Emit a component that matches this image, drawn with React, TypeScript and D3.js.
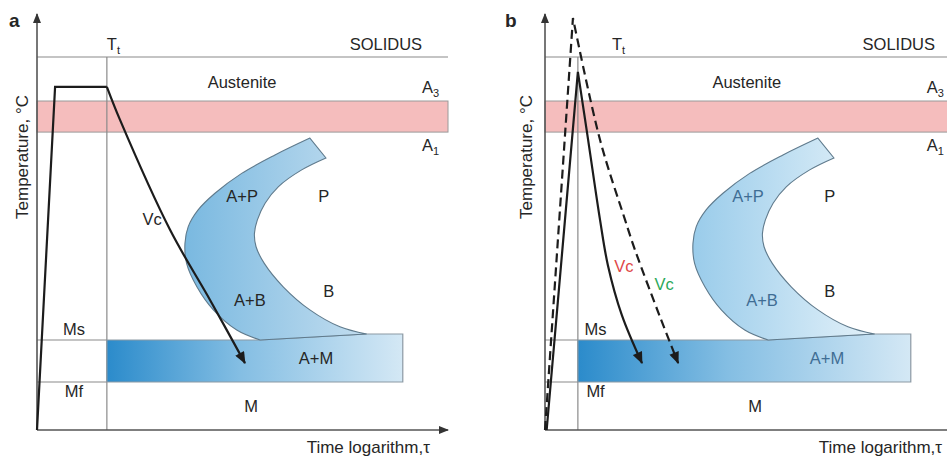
import React from "react";
import * as d3 from "d3";

// schematic TTT diagram: x = log time (0..100), y = temperature (°C-ish)
const TIME_DOMAIN = [0, 100];
const TEMP_DOMAIN = [0, 1500];

const SOLIDUS = 1500;
const A3 = 1323;
const A1 = 1198;
const MS = 362;
const MF = 193;
const AXIS_TOP = 1677;
const RECT_END = 89;
const TAIL_TOP = 386;

// C-curve: outer edge from tail up to the top tip, inner edge from right tip down
const cOuter = [
  [54.3, 362], [48.6, 402], [42.9, 483], [38.9, 576], [36.4, 670],
  [36.0, 751], [36.8, 818], [39.2, 885], [43.3, 952], [49.8, 1032],
  [57.9, 1106], [66.4, 1174],
];
const cInner = [
  [70.3, 1094], [64.4, 1046], [58.7, 978], [55.5, 912], [53.6, 844],
  [52.9, 790], [53.3, 737], [55.3, 670], [59.9, 576], [66.4, 483],
  [73.7, 415], [80.2, TAIL_TOP],
];

// panel a: heat, hold, cool
const heatA = [[0, 0], [4.4, 1380], [17, 1380]];
const coolA = [[17, 1380], [20.2, 1247], [32.4, 804], [42.1, 523], [50.6, 269]];

// panel b: fast heating with two cooling rates
const heatSolidB = [[0.4, 0], [8, 1440]];
const coolSolidB = [[8, 1440], [10.5, 1166], [13.4, 844], [15.3, 663], [18.7, 462], [23.6, 269]];
const heatDashB = [[0, 0], [6.8, 1657]];
const coolDashB = [[6.8, 1657], [13.4, 1166], [19.5, 844], [21.9, 724], [28, 454], [32.4, 269]];

const FONT = "'Liberation Sans', Arial, Helvetica, sans-serif";

function Panel({ id, left, tt, letterX, tempX, labels, dark, children }) {
  const x = d3.scaleLinear().domain(TIME_DOMAIN).range([left, left + 411]);
  const y = d3.scaleLinear().domain(TEMP_DOMAIN).range([430, 57]);
  const lin = d3.line().x((d) => x(d[0])).y((d) => y(d[1]));
  const smooth = d3.line().x((d) => x(d[0])).y((d) => y(d[1])).curve(d3.curveCatmullRom.alpha(0.5));

  const cPath =
    smooth(cOuter) + smooth(cInner).replace(/^M/, "L") + "Z";
  const rectPath = lin([
    [tt, MS], [54.3, MS], [80.2, TAIL_TOP], [RECT_END, TAIL_TOP],
    [RECT_END, MF], [tt, MF],
  ]) + "Z";

  const gray = "#8a8a8a";
  const txt = { fontFamily: FONT, fontSize: 16.5, fill: "#262626" };
  const phase = dark ? "#262626" : "#3f6d94";

  return (
    <g>
      <defs>
        <linearGradient id={`rect-${id}`} gradientUnits="userSpaceOnUse" x1={x(tt)} x2={x(RECT_END)} y1="0" y2="0">
          <stop offset="0" stopColor="#2b8bcb" />
          <stop offset="0.45" stopColor="#84bee3" />
          <stop offset="1" stopColor="#d4e8f5" />
        </linearGradient>
        <linearGradient id={`c-${id}`} gradientUnits="userSpaceOnUse" x1={x(35)} x2={x(80)} y1="0" y2="0">
          <stop offset="0" stopColor={dark ? "#78b8e0" : "#98cbea"} />
          <stop offset="1" stopColor={dark ? "#c2ddef" : "#e3f1f9"} />
        </linearGradient>
      </defs>

      {/* A1-A3 band */}
      <rect x={x(0)} y={y(A3)} width={x(100) - x(0)} height={y(A1) - y(A3)} fill="#f5bdbd" stroke="#9a9a9a" strokeWidth={1} />
      {/* solidus, Tt, Ms, Mf */}
      <line x1={x(0)} x2={x(100)} y1={y(SOLIDUS)} y2={y(SOLIDUS)} stroke={gray} strokeWidth={1.2} />
      <line x1={x(tt)} x2={x(tt)} y1={y(SOLIDUS)} y2={y(0)} stroke={gray} strokeWidth={1.2} />
      <line x1={x(0)} x2={x(tt)} y1={y(MS)} y2={y(MS)} stroke={gray} strokeWidth={1.2} />
      <line x1={x(0)} x2={x(tt)} y1={y(MF)} y2={y(MF)} stroke={gray} strokeWidth={1.2} />

      <path d={rectPath} fill={`url(#rect-${id})`} stroke="#8c99a3" strokeWidth={1.2} />
      <path d={cPath} fill={`url(#c-${id})`} stroke="#5f7a8c" strokeWidth={1.1} />

      {/* axes */}
      <line x1={x(0)} x2={x(0)} y1={y(0)} y2={y(AXIS_TOP) + 1} stroke="#555" strokeWidth={1.6} markerEnd="url(#axisArrow)" />
      <line x1={x(0)} x2={x(100)} y1={y(0)} y2={y(0)} stroke="#555" strokeWidth={1.6} markerEnd="url(#axisArrow)" />

      {children(x, y, lin, smooth)}

      {/* text */}
      <text x={letterX} y={27} style={{ ...txt, fontSize: 19, fontWeight: "bold" }}>{id}</text>
      <text transform={`translate(${tempX},${y(1098)}) rotate(-90)`} textAnchor="middle" style={{ ...txt, fontSize: 17 }}>
        Temperature, °C
      </text>
      <text x={x(labels.tt)} y={y(1528)} style={txt}>
        T<tspan fontSize={11} dy={4}>t</tspan>
      </text>
      <text x={x(labels.solidus)} y={y(1528)} textAnchor="end" style={txt}>SOLIDUS</text>
      <text x={x(labels.aust)} y={y(1375)} textAnchor="middle" style={txt}>Austenite</text>
      <text x={x(labels.a)} y={y(1355)} style={txt}>
        A<tspan fontSize={11} dy={4}>3</tspan>
      </text>
      <text x={x(labels.a)} y={y(1122)} style={txt}>
        A<tspan fontSize={11} dy={4}>1</tspan>
      </text>
      <text x={x(labels.ap)} y={y(917)} textAnchor="middle" style={{ ...txt, fill: phase }}>A+P</text>
      <text x={x(labels.p)} y={y(917)} textAnchor="middle" style={txt}>P</text>
      <text x={x(labels.ab)} y={y(499)} textAnchor="middle" style={{ ...txt, fill: phase }}>A+B</text>
      <text x={x(labels.b)} y={y(535)} textAnchor="middle" style={txt}>B</text>
      <text x={x(labels.am)} y={y(265)} textAnchor="middle" style={{ ...txt, fill: phase }}>A+M</text>
      <text x={x(labels.m)} y={y(72)} textAnchor="middle" style={txt}>M</text>
      <text x={x(labels.ms)} y={y(382)} textAnchor="middle" style={txt}>Ms</text>
      <text x={x(labels.ms)} y={y(133)} textAnchor="middle" style={txt}>Mf</text>
      <text x={x(labels.time)} y={453} textAnchor="end" style={{ ...txt, fontSize: 17 }}>Time logarithm,τ</text>
    </g>
  );
}

export default function App() {
  const curve = { fill: "none", stroke: "#1c1c1c", strokeWidth: 2.2, strokeLinejoin: "miter" as const };
  return (
    <svg width={947} height={456} style={{ position: "absolute", left: 0, top: 0, background: "#fff" }}>
      <defs>
        <marker id="axisArrow" viewBox="0 0 10 8" refX="9" refY="4" markerWidth="10" markerHeight="8" markerUnits="userSpaceOnUse" orient="auto">
          <path d="M0,0L10,4L0,8Z" fill="#333" />
        </marker>
        <marker id="coolArrow" viewBox="0 0 12 10" refX="11" refY="5" markerWidth="13" markerHeight="10" markerUnits="userSpaceOnUse" orient="auto">
          <path d="M0,0L12,5L0,10Z" fill="#1c1c1c" />
        </marker>
      </defs>

      <Panel
        id="a" left={37} tt={17} letterX={9} tempX={28} dark
        labels={{ tt: 17, solidus: 93.7, aust: 49.9, a: 93.7, ap: 49.9, p: 69.8, ab: 51.8, b: 71, am: 67.9, m: 52.1, ms: 9, time: 95.6 }}
      >
        {(x, y, lin, smooth) => (
          <g>
            <path d={lin(heatA)} {...curve} />
            <path d={smooth(coolA)} {...curve} markerEnd="url(#coolArrow)" />
            <text x={x(28)} y={y(824)} textAnchor="middle" style={{ fontFamily: FONT, fontSize: 16.5, fill: "#262626" }}>Vc</text>
          </g>
        )}
      </Panel>

      <Panel
        id="b" left={545} tt={8} letterX={505} tempX={532}
        labels={{ tt: 16.3, solidus: 94.9, aust: 49.1, a: 92.9, ap: 49.4, p: 69.3, ab: 52.8, b: 69.3, am: 68.6, m: 51.1, ms: 12.3, time: 96.6 }}
      >
        {(x, y, lin, smooth) => (
          <g>
            <path d={lin(heatSolidB) + smooth(coolSolidB).replace(/^M/, "L")} {...curve} markerEnd="url(#coolArrow)" />
            <path d={lin(heatDashB) + smooth(coolDashB).replace(/^M/, "L")} {...curve} strokeDasharray="9 5" markerEnd="url(#coolArrow)" />
            <text x={x(19.2)} y={y(635)} textAnchor="middle" style={{ fontFamily: FONT, fontSize: 16.5, fill: "#e04848" }}>Vc</text>
            <text x={x(29)} y={y(563)} textAnchor="middle" style={{ fontFamily: FONT, fontSize: 16.5, fill: "#2aa85a" }}>Vc</text>
          </g>
        )}
      </Panel>
    </svg>
  );
}
